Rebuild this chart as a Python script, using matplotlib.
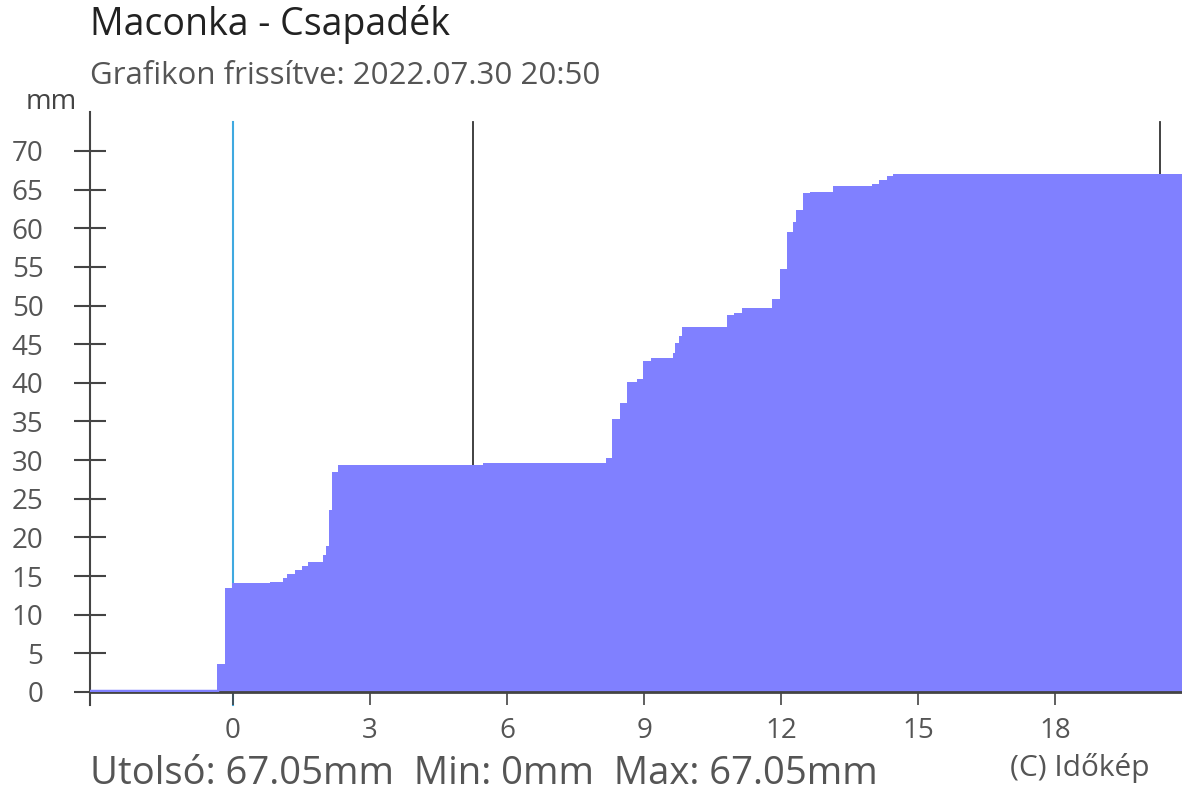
import numpy as np
import matplotlib
matplotlib.use('Agg')
import matplotlib.pyplot as plt

plt.rcParams['font.family'] = ['Open Sans', 'DejaVu Sans']

# Adatok: óra (0 = éjfél) és halmozott csapadék (mm)
hours = [-3.13, -0.35, -0.175, -0.02, 0.81, 1.09, 1.18, 1.36, 1.51, 1.64,
         1.97, 2.03, 2.10, 2.17, 2.30, 5.47, 8.16, 8.29, 8.47, 8.62,
         8.84, 8.97, 9.15, 9.63, 9.67, 9.76, 9.82, 10.81, 10.96, 11.14,
         11.80, 11.97, 12.12, 12.25, 12.32, 12.47, 12.63, 13.13, 13.98, 14.14,
         14.31, 14.44, 20.77]
rain = [0.0, 3.6, 13.4, 14.1, 14.2, 14.7, 15.3, 15.8, 16.3, 16.8,
        17.7, 18.9, 23.5, 28.5, 29.4, 29.6, 30.3, 35.3, 37.4, 40.1,
        40.5, 42.8, 43.2, 43.8, 45.1, 46.1, 47.2, 48.8, 49.0, 49.7,
        50.9, 54.7, 59.5, 60.8, 62.4, 64.5, 64.7, 65.4, 65.7, 66.3,
        66.7, 67.05, 67.05]
xticks = [0, 3, 6, 9, 12, 15, 18]
yticks = list(range(0, 75, 5))
marker_lines = [5.25, 20.28]  # fekete függőleges vonalak

hours = np.array(hours)
rain = np.array(rain)

fig = plt.figure(figsize=(11.82, 8.0), dpi=100)
ax = fig.add_axes([90 / 1182, 108 / 800, 1092 / 1182, 577 / 800])

xmin, xmax = -3.13, 20.77
ymax = 74.65
top = (ymax - 0.9) / ymax

# függőleges vonalak (a kitöltés mögött)
ax.axvline(0, ymin=0, ymax=top, color='#3fa9e0', lw=1.5, zorder=1)
ax.plot([0, 0], [0, -1.7], color='#3fa9e0', lw=1.5, clip_on=False, zorder=1)
for xv in marker_lines:
    ax.axvline(xv, ymin=0, ymax=top, color='#333333', lw=1.3, zorder=1)

# kitöltés
ax.fill_between(hours, 0, rain, step='post', color='#8080ff', lw=0, zorder=2)
ax.plot([hours[0], hours[1]], [0.15, 0.15], color='#8080ff', lw=2.5, zorder=4)

ax.set_xlim(xmin, xmax)
ax.set_ylim(0, ymax)

for s in ax.spines.values():
    s.set_visible(False)
# tengelyek
ax.plot([xmin, xmax], [0, 0], color='#444444', lw=2, zorder=3, clip_on=False)
ax.plot([xmin, xmin], [-1.7, ymax + 0.4], color='#444444', lw=1.5, zorder=3, clip_on=False)

ax.set_yticks(yticks)
ax.set_yticklabels([str(v) for v in yticks])
ax.tick_params(axis='y', direction='inout', length=23, width=1.5, color='#444444',
               labelsize=20, labelcolor='#555555', pad=22)
ax.set_xticks(xticks)
ax.set_xticklabels([str(v) for v in xticks])
ax.tick_params(axis='x', direction='out', length=9, width=1.2, color='#444444',
               labelsize=20, labelcolor='#555555', pad=9)
ax.get_xticklines()[0].set_color('#3fa9e0')

fig.text(90 / 1182, 1 - 25 / 800, 'Maconka - Csapadék', fontsize=27, color='#222222',
         va='center', ha='left')
fig.text(90 / 1182, 1 - 76 / 800, 'Grafikon frissítve: 2022.07.30 20:50', fontsize=22.5,
         color='#555555', va='center', ha='left')
fig.text(51 / 1182, 1 - 102 / 800, 'mm', fontsize=20, color='#444444', va='center', ha='center')
fig.text(90 / 1182, 1 - 774 / 800, 'Utolsó: 67.05mm  Min: 0mm  Max: 67.05mm', fontsize=27.5,
         color='#555555', va='center', ha='left')
fig.text(1150 / 1182, 1 - 768 / 800, '(C) Időkép', fontsize=21.5, color='#555555',
         va='center', ha='right')

plt.savefig('out.png', dpi=100)
